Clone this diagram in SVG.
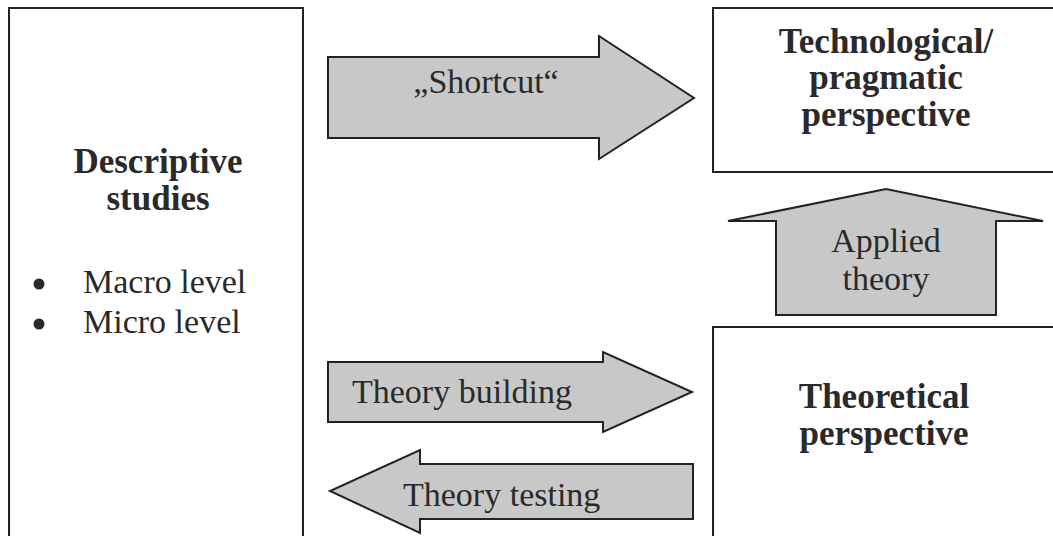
<svg xmlns="http://www.w3.org/2000/svg" width="1053" height="536" viewBox="0 0 1053 536">
<style>
.box{fill:#fff;stroke:#222;stroke-width:2}
.arr{fill:#c8c8c8;stroke:#222;stroke-width:2;stroke-linejoin:miter}
.t{font-family:"Liberation Serif","Times New Roman",serif;font-size:34px;fill:#2a2a2a}
.b{font-weight:bold;font-size:35px}
.m{text-anchor:middle}
.dot{fill:#2a2a2a}
</style>
<rect width="1053" height="536" fill="#fff"/>
<g id="descriptive">
<rect class="box" x="9" y="8" width="294" height="540"/>
<text class="t b m" x="158" y="173">Descriptive</text>
<text class="t b m" x="158" y="210">studies</text>
<circle class="dot" cx="39" cy="284" r="5.5"/>
<circle class="dot" cx="39" cy="324" r="5.5"/>
<text class="t" x="83" y="293">Macro level</text>
<text class="t" x="83" y="333">Micro level</text>
</g>
<g id="technological">
<rect class="box" x="713" y="8" width="360" height="164"/>
<text class="t b m" x="886" y="53">Technological/</text>
<text class="t b m" x="886" y="89">pragmatic</text>
<text class="t b m" x="886" y="126">perspective</text>
</g>
<g id="theoretical">
<rect class="box" x="713" y="327" width="360" height="230"/>
<text class="t b m" x="884" y="408">Theoretical</text>
<text class="t b m" x="884" y="445">perspective</text>
</g>
<g id="connectors">
<g id="shortcut">
<polygon class="arr" points="328,57 599,57 599,36 694,98 599,159 599,138 328,138"/>
<text class="t m" x="486" y="93">„Shortcut“</text>
</g>
<g id="applied">
<polygon class="arr" points="776,315 776,221 728,221 886,189 1043,221 996,221 996,315"/>
<text class="t m" x="886" y="252">Applied</text>
<text class="t m" x="886" y="290">theory</text>
</g>
<g id="building">
<polygon class="arr" points="328,362 603,362 603,352 692,392 603,432 603,422 328,422"/>
<text class="t" x="352" y="403">Theory building</text>
</g>
<g id="testing">
<polygon class="arr" points="693,464 420,464 420,450 330,491 420,533 420,519 693,519"/>
<text class="t" x="403" y="506">Theory testing</text>
</g>
</g>
</svg>
